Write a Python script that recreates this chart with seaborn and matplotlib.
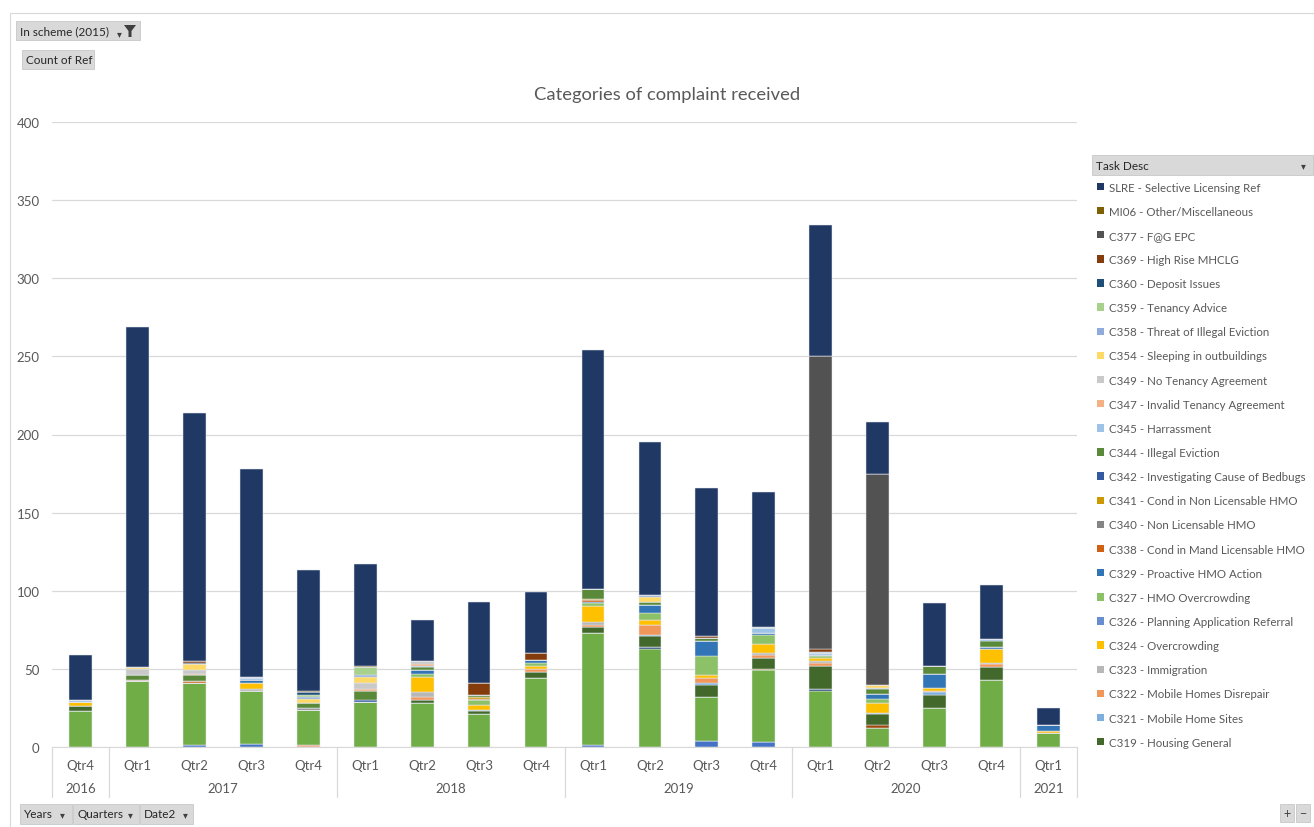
import numpy as np
import pandas as pd
import matplotlib
matplotlib.use("Agg")
import matplotlib.pyplot as plt
import matplotlib.transforms as mtransforms
from matplotlib.patches import Patch, Rectangle, Polygon
import seaborn as sns

W, H = 1314, 828

# x categories (pivot rows: Years > Quarters)
quarters = ["Qtr4", "Qtr1", "Qtr2", "Qtr3", "Qtr4", "Qtr1", "Qtr2", "Qtr3", "Qtr4",
            "Qtr1", "Qtr2", "Qtr3", "Qtr4", "Qtr1", "Qtr2", "Qtr3", "Qtr4", "Qtr1"]
quarter_years = [2016, 2017, 2017, 2017, 2017, 2018, 2018, 2018, 2018,
                 2019, 2019, 2019, 2019, 2020, 2020, 2020, 2020, 2021]

# counts per task, bottom of the stack first
hidden_a = [0, 0, 1, 2, 0, 0, 0, 0, 0, 1, 0, 4, 3, 0, 0, 0, 0, 0]
hidden_b = [0, 0, 0, 0, 1, 0, 0, 0, 0, 0, 0, 0, 0, 0, 0, 0, 0, 0]
hidden_c = [23, 42, 40, 34, 23, 29, 28, 21, 44, 72, 63, 28, 46, 36, 12, 25, 43, 9]
hidden_d = [0, 0, 0, 0, 0, 0, 0, 0, 0, 0, 1, 0, 0, 1, 0, 0, 0, 0]
hidden_e = [0, 0, 0, 0, 0, 0, 0, 0, 0, 0, 0, 0, 1, 0, 0, 0, 0, 0]
hidden_f = [0, 0, 0, 0, 0, 0, 0, 0, 0, 0, 0, 0, 0, 0, 2, 0, 0, 0]
c319 = [3, 0, 0, 0, 0, 0, 2, 2, 4, 4, 7, 8, 7, 15, 7, 8, 8, 0]
c321 = [0, 0, 0, 0, 0, 0, 0, 1, 0, 0, 1, 1, 0, 0, 1, 2, 0, 0]
c322 = [0, 0, 0, 0, 0, 0, 2, 0, 2, 1, 6, 3, 2, 2, 0, 1, 2, 0]
c323 = [0, 0, 0, 1, 0, 0, 3, 0, 0, 2, 0, 0, 1, 1, 0, 0, 1, 0]
c324 = [3, 0, 0, 4, 0, 0, 10, 3, 2, 10, 3, 2, 6, 2, 6, 2, 9, 1]
c326 = [0, 0, 0, 0, 0, 0, 0, 0, 0, 0, 0, 0, 0, 0, 0, 0, 0, 0]
c327 = [0, 0, 0, 0, 0, 0, 2, 3, 2, 2, 5, 12, 6, 1, 3, 0, 0, 0]
c329 = [0, 0, 0, 2, 0, 0, 2, 0, 2, 1, 5, 10, 1, 1, 3, 9, 1, 4]
c338 = [0, 1, 1, 0, 0, 0, 0, 1, 0, 1, 0, 0, 0, 0, 0, 0, 0, 0]
c340 = [0, 0, 0, 0, 1, 0, 0, 0, 0, 0, 0, 0, 0, 0, 0, 0, 0, 0]
c341 = [0, 0, 0, 0, 0, 0, 0, 1, 0, 1, 0, 0, 0, 0, 0, 0, 0, 0]
c342 = [0, 0, 0, 0, 0, 1, 0, 0, 0, 0, 0, 0, 0, 0, 0, 0, 0, 0]
c344 = [0, 3, 4, 0, 3, 6, 2, 1, 0, 6, 2, 2, 0, 0, 3, 5, 4, 0]
c345 = [1, 0, 0, 1, 0, 0, 1, 0, 0, 0, 0, 0, 3, 1, 1, 0, 1, 0]
c347 = [0, 0, 1, 0, 0, 1, 1, 0, 0, 0, 0, 0, 0, 0, 0, 0, 0, 0]
c349 = [0, 4, 2, 0, 0, 4, 2, 0, 0, 0, 0, 0, 0, 0, 0, 0, 0, 0]
c354 = [0, 1, 4, 0, 3, 4, 0, 0, 0, 0, 3, 0, 0, 0, 2, 0, 0, 0]
c358 = [0, 0, 0, 1, 1, 1, 0, 0, 0, 0, 1, 0, 0, 1, 0, 0, 0, 0]
c359 = [0, 0, 0, 0, 1, 5, 0, 0, 0, 0, 0, 0, 1, 0, 0, 0, 0, 0]
c360 = [0, 0, 1, 0, 2, 0, 0, 0, 0, 0, 0, 0, 0, 0, 0, 0, 0, 0]
c369 = [0, 0, 1, 0, 0, 0, 0, 8, 4, 0, 0, 1, 0, 2, 0, 0, 0, 0]
c377 = [0, 0, 0, 0, 0, 0, 0, 0, 0, 0, 0, 0, 0, 187, 135, 0, 0, 0]
mi06 = [0, 0, 0, 0, 1, 1, 0, 0, 0, 0, 0, 0, 0, 0, 0, 0, 0, 0]
slre = [29, 218, 159, 133, 77, 65, 26, 52, 39, 153, 98, 95, 86, 84, 33, 40, 35, 11]

# task names, bottom to top; the first six are below the visible legend
tasks = ["hidden a", "hidden b", "hidden c", "hidden d", "hidden e", "hidden f",
         "C319 - Housing General", "C321 - Mobile Home Sites", "C322 - Mobile Homes Disrepair",
         "C323 - Immigration", "C324 - Overcrowding", "C326 - Planning Application Referral",
         "C327 - HMO Overcrowding", "C329 - Proactive HMO Action", "C338 - Cond in Mand Licensable HMO",
         "C340 - Non Licensable HMO", "C341 - Cond in Non Licensable HMO",
         "C342 - Investigating Cause of Bedbugs", "C344 - Illegal Eviction", "C345 - Harrassment",
         "C347 - Invalid Tenancy Agreement", "C349 - No Tenancy Agreement",
         "C354 - Sleeping in outbuildings", "C358 - Threat of Illegal Eviction",
         "C359 - Tenancy Advice", "C360 - Deposit Issues", "C369 - High Rise MHCLG",
         "C377 - F@G EPC", "MI06 - Other/Miscellaneous", "SLRE - Selective Licensing Ref"]
task_values = [hidden_a, hidden_b, hidden_c, hidden_d, hidden_e, hidden_f,
               c319, c321, c322, c323, c324, c326, c327, c329, c338, c340, c341, c342,
               c344, c345, c347, c349, c354, c358, c359, c360, c369, c377, mi06, slre]
task_colors = ["#4472C4", "#F4A582", "#70AD47", "#264478", "#997300", "#9E480E",
               "#43682B", "#7CAFDD", "#F1975A", "#B7B7B7", "#FFC000", "#698ED0",
               "#8CC168", "#3275B6", "#D26012", "#848484", "#CC9A00", "#335AA1",
               "#5A8A39", "#9DC3E6", "#F4B183", "#C9C9C9", "#FFD966", "#8FAADC",
               "#A9D18E", "#1F4E79", "#843C0C", "#525252", "#7F6000", "#203864"]
n_hidden = 6

rows = []
for name, vals in zip(tasks, task_values):
    for i, v in enumerate(vals):
        rows.append({"period": i, "task": name, "count": v})
df = pd.DataFrame(rows)
palette = dict(zip(tasks, task_colors))

sns.set_style("white")
plt.rcParams["font.family"] = ["Lato", "DejaVu Sans"]

fig = plt.figure(figsize=(W / 100, H / 100), dpi=100)
ax = fig.add_axes([52 / W, 1 - 748 / H, (1077 - 52) / W, (748 - 123) / H])

sns.histplot(data=df, x="period", weights="count", hue="task",
             hue_order=tasks[::-1], multiple="stack", discrete=True, shrink=0.4,
             palette=palette, alpha=1, edgecolor="#e6e9ef", linewidth=0.35,
             legend=False, ax=ax)

grey = "#595959"
ax.set_xlim(-0.5, len(quarters) - 0.5)
ax.set_ylim(0, 400)
ax.set_yticks(np.arange(0, 401, 50))
ax.yaxis.grid(True, color="#d9d9d9", linewidth=0.9)
ax.xaxis.grid(False)
ax.set_axisbelow(True)
ax.set_xlabel("")
ax.set_ylabel("")
for s in ["top", "right", "left"]:
    ax.spines[s].set_visible(False)
ax.spines["bottom"].set_color("#d9d9d9")
ax.set_xticks(range(len(quarters)))
ax.set_xticklabels(quarters)
ax.tick_params(axis="x", length=0, pad=9, labelsize=9.5, labelcolor=grey)
ax.tick_params(axis="y", length=0, pad=9, labelsize=9.5, labelcolor=grey)

# second level of the category axis: years and separators
trans = mtransforms.blended_transform_factory(ax.transData, fig.transFigure)
years = sorted(set(quarter_years))
qy = np.array(quarter_years)
bounds = [-0.5]
for yr in years:
    idx = np.where(qy == yr)[0]
    ax.text(idx.mean(), 1 - 789 / H, str(yr), transform=trans, ha="center", va="center",
            fontsize=9.5, color=grey)
    bounds.append(idx.max() + 0.5)
for b in bounds:
    ax.plot([b, b], [1 - 748 / H, 1 - 798 / H], transform=trans, color="#d9d9d9",
            linewidth=0.9, clip_on=False)

fig.text(667 / W, 1 - 95 / H, "Categories of complaint received", ha="center", va="center",
         fontsize=13.2, color=grey)

# legend (only the entries shown in the pivot chart)
handles = [Patch(facecolor=c, edgecolor="none", label=t)
           for t, c in zip(tasks[n_hidden:][::-1], task_colors[n_hidden:][::-1])]
fig.legend(handles=handles, loc="upper left", bbox_to_anchor=(1097 / W, 1 - 182.5 / H),
           frameon=False, fontsize=8.3, labelcolor=grey, borderpad=0, borderaxespad=0,
           handlelength=0.62, handleheight=0.62, handletextpad=0.45, labelspacing=1.14)


def button(x0, y0, x1, y1, label, size=8.5):
    fig.patches.append(Rectangle((x0 / W, 1 - y1 / H), (x1 - x0) / W, (y1 - y0) / H,
                                 transform=fig.transFigure, facecolor="#d9d9d9",
                                 edgecolor="#c8c8c8", linewidth=0.6))
    fig.text((x0 + 4) / W, 1 - (y0 + y1) / 2 / H, label, ha="left", va="center",
             fontsize=size, color="#262626")


def arrow(x, y):
    fig.text(x / W, 1 - y / H, "\u25be", ha="center", va="center", fontsize=7,
             color="#404040", family=["DejaVu Sans"])


# chart border
fig.patches.append(Rectangle((10 / W, -0.01), 1.0, 1 - 14 / H + 0.01, transform=fig.transFigure,
                             facecolor="none", edgecolor="#d9d9d9", linewidth=0.8))

button(16, 22, 140, 41, "In scheme (2015)")
arrow(119, 34)
fig.patches.append(Polygon([(124 / W, 1 - 26 / H), (136 / W, 1 - 26 / H), (131.5 / W, 1 - 32 / H),
                            (131.5 / W, 1 - 38 / H), (128.5 / W, 1 - 38 / H), (128.5 / W, 1 - 32 / H)],
                           closed=True, transform=fig.transFigure, facecolor="#404040",
                           edgecolor="none"))
button(22, 51, 94, 70, "Count of Ref")

button(1092, 156, 1313, 176, "Task Desc")
arrow(1303, 166)

button(20, 805, 72, 825, "Years")
arrow(62, 815)
button(73, 805, 139, 825, "Quarters")
arrow(130, 815)
button(140, 805, 193, 825, "Date2")
arrow(185, 815)

for x0, sym in [(1280, "+"), (1296, "\u2212")]:
    fig.patches.append(Rectangle((x0 / W, 1 - 823 / H), 14 / W, 18 / H, transform=fig.transFigure,
                                 facecolor="#d9d9d9", edgecolor="#c8c8c8", linewidth=0.6))
    fig.text((x0 + 7) / W, 1 - 814 / H, sym, ha="center", va="center", fontsize=9,
             color="#404040")

fig.savefig("out.png", dpi=100)
